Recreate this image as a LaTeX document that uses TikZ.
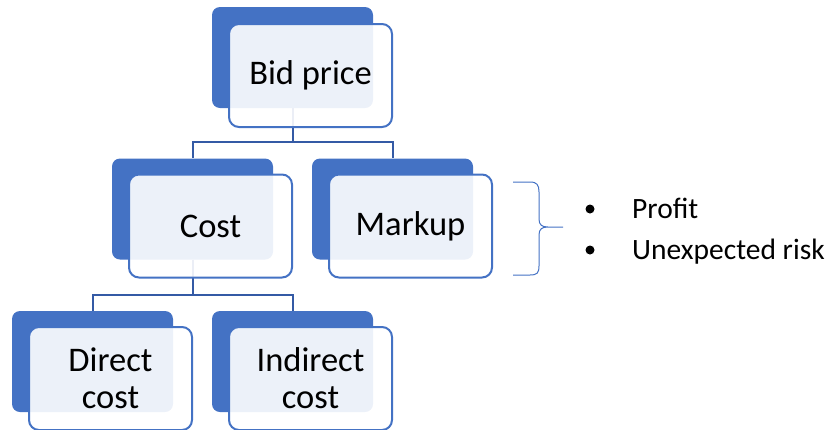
\documentclass[tikz,border=0pt]{standalone}
\usepackage{fontspec}
\setmainfont{Carlito}
\definecolor{accent}{RGB}{68,114,196}
\definecolor{linkblue}{RGB}{52,90,165}
\begin{document}
\begin{tikzpicture}[x=1pt, y=-1pt,
        back/.style={fill=accent, rounded corners=8pt, inner sep=0pt,
                     minimum width=161pt, minimum height=101pt},
        front/.style={draw=accent, line width=2pt, fill=white,
                      fill opacity=0.9, text opacity=1, rounded corners=10pt,
                      minimum width=163pt, minimum height=103pt, inner sep=0pt,
                      align=center, font=\fontsize{34.5}{37}\selectfont},
        conn/.style={draw=linkblue, line width=2pt},
        dot/.style={circle, fill=black, inner sep=0pt, minimum size=9pt},
        item/.style={anchor=base west, inner sep=0pt,
                     font=\fontsize{29.5}{34}\selectfont}]
      \useasboundingbox (0,0) rectangle (825,429);
      % Cadres arriere
      \node[back] (bidB)  at (292.5, 57.5) {};
      \node[back] (costB) at (192.5, 209)  {};
      \node[back] (markB) at (392.5, 209)  {};
      \node[back] (dirB)  at (92.5,  361.5) {};
      \node[back] (indB)  at (292.5, 361.5) {};
      % Liaisons
      \draw[conn] (bidB.south) -- ++(0,34) -| (costB.north);
      \draw[conn] (bidB.south) -- ++(0,34) -| (markB.north);
      \draw[conn] (costB.south) -- ++(0,35) -| (dirB.north);
      \draw[conn] (costB.south) -- ++(0,35) -| (indB.north);
      % Cadres avant
      \node[front] (bid)  at (310.5, 75.5)  {Bid price};
      \node[front] (cost) at (210.5, 226)   {Cost};
      \node[front] (mark) at (410.5, 226)   {Markup};
      \node[front] (dir)  at (110.5, 378.5) {Direct\\cost};
      \node[front] (ind)  at (310.5, 378.5) {Indirect\\cost};
      % Accolade
      \draw[accent, line width=1pt]
        (513,182) -- (530,182) .. controls (537,182) and (539,185) .. (539,192)
        -- (539,219) .. controls (539,225) and (542,227) .. (548,227) -- (563,227)
        (548,227) .. controls (542,227) and (539,229) .. (539,235)
        -- (539,266) .. controls (539,273) and (537,275) .. (530,275) -- (513,275);
      % Liste
      \node[dot] (b1) at (590,209) {};
      \node[dot] (b2) at (590,250) {};
      \node[item] (profit) at (632,218) {Profit};
      \node[item] (risk)   at (632,259) {Unexpected risk};
    \end{tikzpicture}
\end{document}
